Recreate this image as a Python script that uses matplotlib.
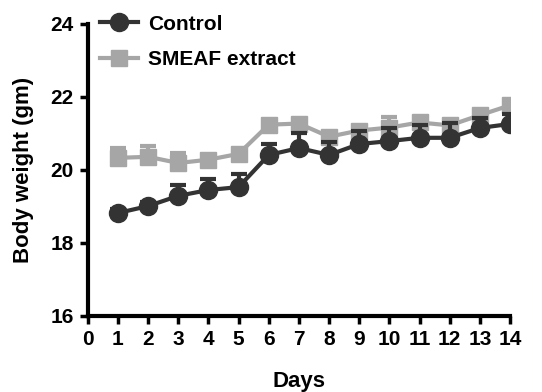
import numpy as np
import matplotlib.pyplot as plt
from matplotlib.lines import Line2D

plt.rcParams['font.family'] = ['Liberation Sans', 'DejaVu Sans']
plt.rcParams['font.weight'] = 'bold'

# Data
days = [1, 2, 3, 4, 5, 6, 7, 8, 9, 10, 11, 12, 13, 14]
control = [18.82, 19.01, 19.29, 19.45, 19.53, 20.41, 20.6, 20.41, 20.71, 20.79, 20.88, 20.88, 21.15, 21.26]
control_err = [0.1, 0.1, 0.3, 0.3, 0.35, 0.3, 0.4, 0.35, 0.35, 0.35, 0.35, 0.4, 0.27, 0.27]
smeaf = [20.33, 20.36, 20.19, 20.28, 20.44, 21.24, 21.27, 20.91, 21.08, 21.16, 21.3, 21.22, 21.5, 21.77]
smeaf_err = [0.27, 0.3, 0.27, 0.1, 0.1, 0.1, 0.1, 0.1, 0.1, 0.3, 0.1, 0.1, 0.1, 0.1]

dark = '#333333'
grey = '#a6a6a6'

fig = plt.figure(figsize=(5.42, 3.92), dpi=100)
ax = fig.add_axes([0.162, 0.194, 0.779, 0.745])

zeros = np.zeros(len(days))
ax.errorbar(days, smeaf, yerr=[zeros, smeaf_err], color=grey, lw=3,
            marker='s', markersize=11.5, capsize=6, capthick=3, elinewidth=3,
            zorder=2)
ax.errorbar(days, control, yerr=[zeros, control_err], color=dark, lw=3,
            marker='o', markersize=13, capsize=6, capthick=3, elinewidth=3,
            zorder=3)

ax.set_xlim(0, 14)
ax.set_ylim(16, 24)
ax.set_xticks(range(0, 15))
ax.set_yticks([16, 18, 20, 22, 24])

for side in ['top', 'right']:
    ax.spines[side].set_visible(False)
for side in ['left', 'bottom']:
    ax.spines[side].set_linewidth(3)
    ax.spines[side].set_color('black')
ax.tick_params(axis='both', direction='out', length=6, width=2.5,
               labelsize=15, pad=4)
for lab in ax.get_xticklabels() + ax.get_yticklabels():
    lab.set_fontweight('bold')

ax.set_xlabel('Days', fontsize=16, fontweight='bold', labelpad=16)
ax.set_ylabel('Body weight (gm)', fontsize=16, fontweight='bold', labelpad=12)

handles = [
    Line2D([], [], color=dark, lw=3, marker='o', markersize=13),
    Line2D([], [], color=grey, lw=3, marker='s', markersize=11.5),
]
leg = ax.legend(handles, ['Control', 'SMEAF extract'], loc='upper left',
                frameon=False, fontsize=15, handlelength=1.8,
                handletextpad=0.5, borderaxespad=0,
                bbox_to_anchor=(0.01, 1.06), labelspacing=0.8)
for t in leg.get_texts():
    t.set_fontweight('bold')

fig.savefig('out.png', dpi=100)
